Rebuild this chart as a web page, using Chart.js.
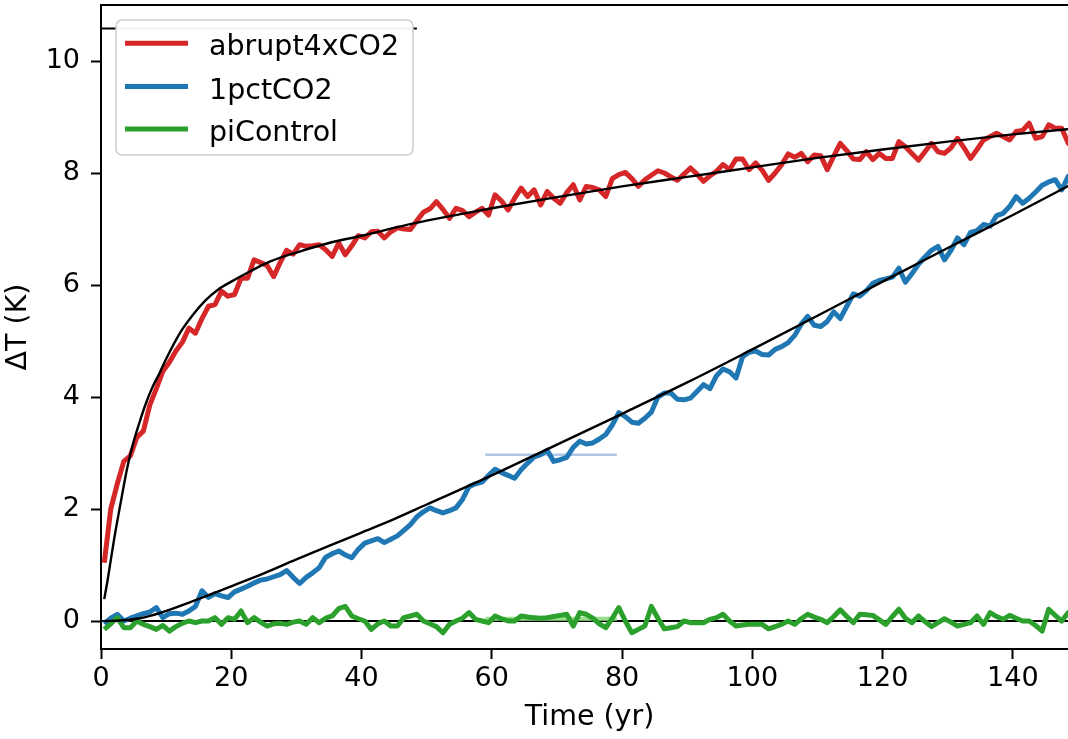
<!DOCTYPE html>
<html>
<head>
<meta charset="utf-8">
<script src="https://cdn.jsdelivr.net/npm/chart.js@4"></script>
<style>
  html, body { margin: 0; padding: 0; background: #fff; overflow: hidden; }
  #wrap { position: relative; width: 1110px; height: 739px; }
</style>
</head>
<body>
<div id="wrap"><canvas id="tempChart"></canvas></div>
<script>
// years are mid-year points 0.5 ... 149.5
let years = Array.from({length: 150}, (_, i) => i + 0.5);

let abrupt4x = [
  1.04, 2.00, 2.45, 2.85, 2.95, 3.28, 3.39, 3.86, 4.15, 4.46,
  4.62, 4.82, 4.98, 5.23, 5.14, 5.40, 5.62, 5.65, 5.89, 5.80,
  5.83, 6.12, 6.12, 6.45, 6.40, 6.35, 6.15, 6.40, 6.62, 6.55,
  6.72, 6.69, 6.70, 6.72, 6.63, 6.51, 6.75, 6.54, 6.70, 6.88,
  6.84, 6.95, 6.96, 6.84, 6.95, 7.02, 7.00, 6.99, 7.15, 7.30,
  7.36, 7.49, 7.35, 7.19, 7.37, 7.33, 7.22, 7.30, 7.37, 7.25,
  7.61, 7.50, 7.34, 7.55, 7.73, 7.58, 7.70, 7.43, 7.67, 7.55,
  7.46, 7.65, 7.79, 7.52, 7.76, 7.74, 7.70, 7.58, 7.90, 7.97,
  8.01, 7.90, 7.76, 7.88, 7.96, 8.04, 8.00, 7.93, 7.87, 7.98,
  8.09, 7.98, 7.85, 7.95, 8.03, 8.15, 8.06, 8.25, 8.25, 8.06,
  8.18, 8.05, 7.87, 8.00, 8.15, 8.34, 8.28, 8.35, 8.20, 8.32,
  8.31, 8.06, 8.30, 8.53, 8.40, 8.25, 8.24, 8.38, 8.24, 8.35,
  8.26, 8.26, 8.56, 8.47, 8.35, 8.23, 8.38, 8.53, 8.38, 8.35,
  8.45, 8.62, 8.45, 8.26, 8.42, 8.59, 8.65, 8.71, 8.65, 8.59,
  8.74, 8.76, 8.89, 8.62, 8.65, 8.86, 8.80, 8.80, 8.53, 8.60
];

let onePct = [
  -0.05, 0.05, 0.12, 0.00, 0.05, 0.09, 0.13, 0.16, 0.24, 0.06,
  0.13, 0.14, 0.12, 0.18, 0.26, 0.54, 0.42, 0.49, 0.45, 0.42,
  0.52, 0.57, 0.62, 0.68, 0.73, 0.75, 0.79, 0.83, 0.90, 0.78,
  0.67, 0.78, 0.86, 0.95, 1.14, 1.20, 1.25, 1.18, 1.13, 1.28,
  1.39, 1.43, 1.47, 1.40, 1.46, 1.52, 1.62, 1.72, 1.86, 1.95,
  2.02, 1.97, 1.93, 1.97, 2.02, 2.17, 2.40, 2.45, 2.48, 2.60,
  2.71, 2.65, 2.60, 2.55, 2.70, 2.82, 2.93, 2.97, 3.05, 2.85,
  2.88, 2.92, 3.10, 3.21, 3.16, 3.18, 3.25, 3.33, 3.50, 3.72,
  3.65, 3.55, 3.53, 3.62, 3.73, 4.00, 4.07, 4.07, 3.96, 3.95,
  3.98, 4.10, 4.22, 4.15, 4.38, 4.50, 4.45, 4.34, 4.72, 4.80,
  4.82, 4.76, 4.75, 4.85, 4.90, 4.97, 5.10, 5.30, 5.44, 5.28,
  5.26, 5.35, 5.52, 5.40, 5.62, 5.84, 5.80, 5.90, 6.03, 6.08,
  6.11, 6.14, 6.30, 6.05, 6.20, 6.37, 6.50, 6.62, 6.69, 6.45,
  6.62, 6.84, 6.72, 6.94, 6.97, 7.08, 7.05, 7.24, 7.28, 7.40,
  7.58, 7.46, 7.55, 7.66, 7.78, 7.84, 7.88, 7.70, 7.94, 8.02
];

let piControl = [
  -0.15, -0.05, 0.06, -0.12, -0.12, 0.00, -0.06, -0.10, -0.15, -0.08,
  -0.18, -0.10, -0.04, 0.00, -0.03, 0.00, 0.00, 0.06, -0.06, 0.06,
  0.03, 0.18, -0.03, 0.06, -0.02, -0.09, -0.05, -0.04, -0.06, -0.02,
  0.00, -0.06, 0.06, -0.03, 0.05, 0.09, 0.22, 0.26, 0.09, 0.04,
  0.00, -0.15, -0.05, 0.00, -0.09, -0.09, 0.06, 0.09, 0.12, 0.00,
  -0.05, -0.10, -0.21, -0.06, 0.00, 0.05, 0.15, 0.03, 0.00, -0.03,
  0.09, 0.04, 0.00, 0.00, 0.09, 0.07, 0.06, 0.05, 0.06, 0.08,
  0.10, 0.12, -0.09, 0.15, 0.12, 0.05, -0.05, -0.12, 0.05, 0.24,
  0.00, -0.21, -0.15, -0.09, 0.26, 0.05, -0.14, -0.12, -0.10, 0.00,
  -0.03, -0.03, -0.03, 0.03, 0.06, 0.12, 0.00, -0.09, -0.07, -0.06,
  -0.06, -0.06, -0.14, -0.10, -0.06, 0.00, -0.06, 0.04, 0.12, 0.07,
  0.03, -0.03, 0.08, 0.20, 0.08, -0.03, 0.12, 0.11, 0.10, 0.02,
  -0.06, 0.08, 0.21, 0.05, -0.03, 0.09, -0.01, -0.10, -0.03, 0.04,
  -0.02, -0.09, -0.06, -0.03, 0.09, -0.06, 0.15, 0.08, 0.03, 0.10,
  0.05, 0.00, 0.00, -0.08, -0.18, 0.21, 0.10, 0.00, 0.15, 0.10
];

// smooth fitted curves (black)
let fitRedYears = [0.5, 1, 2, 3, 4, 5, 6, 7, 8, 9, 10, 12, 14, 16, 18, 20, 23, 26, 30, 35, 40, 48, 55, 60, 70, 80, 90, 100, 110, 120, 130, 140, 150];
let fitRed = [0.39, 0.72, 1.45, 2.10, 2.72, 3.20, 3.58, 3.92, 4.20, 4.43, 4.68, 5.12, 5.45, 5.72, 5.92, 6.06, 6.25, 6.42, 6.58, 6.75, 6.88, 7.10, 7.26, 7.37, 7.57, 7.76, 7.93, 8.10, 8.27, 8.42, 8.56, 8.69, 8.80];

let fitBlueYears = [0.5, 3, 6, 9, 14, 20, 25, 30, 35, 40, 45, 50, 60, 70, 80, 90, 100, 110, 120, 130, 140, 150];
let fitBlue = [0.00, 0.01, 0.05, 0.14, 0.35, 0.62, 0.85, 1.10, 1.34, 1.58, 1.82, 2.08, 2.60, 3.15, 3.70, 4.26, 4.85, 5.45, 6.06, 6.66, 7.25, 7.86];

let zeroYears = [0, 150];
let zeroLine = [0, 0];

let topYears = [0, 48.5];
let topLine = [10.58, 10.58];

let markYears = [59, 79.2];
let markBlue = [2.97, 2.97];
let markGreen = [0.04, 0.04];

let seriesNames = ['abrupt4xCO2', '1pctCO2', 'piControl'];
let seriesColors = ['#d62728', '#1f77b4', '#2ca02c'];

let xTicks = [0, 20, 40, 60, 80, 100, 120, 140];
let yTicks = [0, 2, 4, 6, 8, 10];

const FONT = 'DejaVu Sans';
const FS = 27;      // tick labels
const FS_BIG = 28.5; // axis titles and legend

function pts(xs, ys) {
    return xs.map((x, i) => ({x: x, y: ys[i]}));
}

function line(data, color, width, order, extra) {
    return Object.assign({
        data: data,
        borderColor: color,
        borderWidth: width,
        pointRadius: 0,
        fill: false,
        tension: 0,
        borderJoinStyle: 'round',
        order: order
    }, extra || {});
}

// top frame line + legend box drawn on top of the lines
const frameAndLegend = {
    id: 'frameAndLegend',
    afterDatasetsDraw(chart) {
        const ctx = chart.ctx;
        const a = chart.chartArea;
        ctx.save();
        ctx.strokeStyle = '#000';
        ctx.lineWidth = 2;
        ctx.beginPath();
        ctx.moveTo(a.left, a.top);
        ctx.lineTo(a.right, a.top);
        ctx.lineTo(a.right, a.bottom);
        ctx.stroke();

        // legend
        const bx = 116, by = 20, bw = 297, bh = 135, r = 6;
        ctx.beginPath();
        ctx.moveTo(bx + r, by);
        ctx.arcTo(bx + bw, by, bx + bw, by + bh, r);
        ctx.arcTo(bx + bw, by + bh, bx, by + bh, r);
        ctx.arcTo(bx, by + bh, bx, by, r);
        ctx.arcTo(bx, by, bx + bw, by, r);
        ctx.closePath();
        ctx.fillStyle = 'rgba(255,255,255,0.95)';
        ctx.fill();
        ctx.strokeStyle = '#cccccc';
        ctx.lineWidth = 1.5;
        ctx.stroke();

        const rows = [43.3, 86.5, 129];
        ctx.font = FS_BIG + 'px "' + FONT + '"';
        ctx.textAlign = 'left';
        ctx.textBaseline = 'alphabetic';
        seriesNames.forEach((name, i) => {
            ctx.strokeStyle = seriesColors[i];
            ctx.lineWidth = 5;
            ctx.beginPath();
            ctx.moveTo(125, rows[i]);
            ctx.lineTo(188, rows[i]);
            ctx.stroke();
            ctx.fillStyle = '#000';
            ctx.fillText(name, 209, rows[i] + 12);
        });
        ctx.restore();
    }
};

let ctx = document.getElementById('tempChart').getContext('2d');
let tempChart = new Chart(ctx, {
    type: 'line',
    data: {
        datasets: [
            line(pts(zeroYears, zeroLine), '#000', 2.2, 10),
            line(pts(markYears, markGreen), '#98df8a', 4, 9),
            line(pts(markYears, markBlue), '#aec7e8', 2.5, 8),
            line(pts(years, abrupt4x), seriesColors[0], 5, 7),
            line(pts(years, onePct), seriesColors[1], 5, 6),
            line(pts(years, piControl), seriesColors[2], 5, 5),
            line(pts(fitRedYears, fitRed), '#000', 2.4, 4, {cubicInterpolationMode: 'monotone'}),
            line(pts(fitBlueYears, fitBlue), '#000', 2.4, 3, {cubicInterpolationMode: 'monotone'}),
            line(pts(topYears, topLine), '#000', 2.2, 2)
        ]
    },
    options: {
        responsive: true,
        maintainAspectRatio: false,
        animation: false,
        devicePixelRatio: 1,
        layout: { padding: { top: 5, right: 32, left: 0, bottom: 0 } },
        plugins: {
            legend: { display: false },
            tooltip: { enabled: false }
        },
        scales: {
            x: {
                type: 'linear',
                min: 0,
                max: 150,
                ticks: {
                    stepSize: 20,
                    color: '#000',
                    padding: 4,
                    maxRotation: 0,
                    autoSkip: false,
                    font: { family: FONT, size: FS }
                },
                afterBuildTicks: s => { s.ticks = xTicks.map(v => ({value: v})); },
                afterFit: s => { s.height = 90; s.paddingLeft = 0; s.paddingRight = 0; },
                grid: { drawOnChartArea: false, drawTicks: true, tickLength: 10, tickWidth: 2, tickColor: '#000' },
                border: { display: true, color: '#000', width: 2 },
                title: {
                    display: true,
                    text: 'Time (yr)',
                    color: '#000',
                    font: { family: FONT, size: FS_BIG },
                    padding: { top: 0, bottom: 4 }
                }
            },
            y: {
                type: 'linear',
                min: -0.5,
                max: 11,
                ticks: {
                    stepSize: 2,
                    color: '#000',
                    padding: 11,
                    font: { family: FONT, size: FS }
                },
                afterBuildTicks: s => { s.ticks = yTicks.map(v => ({value: v})); },
                afterFit: s => { s.width = 101; s.paddingTop = 0; s.paddingBottom = 0; },
                grid: { drawOnChartArea: false, drawTicks: true, tickLength: 10, tickWidth: 2, tickColor: '#000' },
                border: { display: true, color: '#000', width: 2 },
                title: {
                    display: true,
                    text: 'ΔT (K)',
                    color: '#000',
                    font: { family: FONT, size: FS_BIG },
                    padding: { top: 1, bottom: 0 }
                }
            }
        }
    },
    plugins: [frameAndLegend]
});
</script>
</body>
</html>
